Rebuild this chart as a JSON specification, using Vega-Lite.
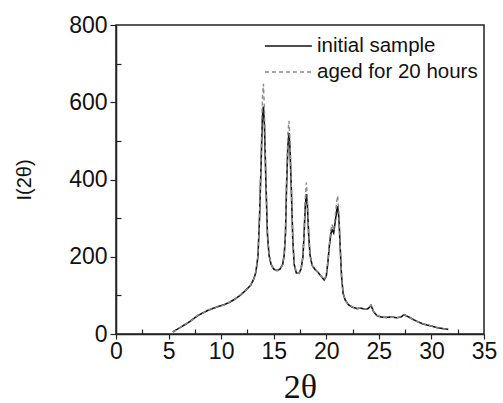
{
  "$schema": "https://vega.github.io/schema/vega-lite/v6.json",
  "width": 368,
  "height": 309,
  "autosize": {"type": "none"},
  "padding": {"left": 116, "top": 25, "right": 19, "bottom": 69},
  "background": "white",
  "config": {
    "view": {"stroke": "#222", "strokeWidth": 1.5},
    "axis": {"grid": false, "domainColor": "#222", "domainWidth": 1.5, "tickColor": "#222", "tickWidth": 1.2, "labelColor": "#111", "titleColor": "#111", "labelFont": "Liberation Sans", "titleFont": "Liberation Sans", "titleFontWeight": "normal"}
  },
  "data": {"values": [
    {"theta": 5.4, "initial sample": 5, "aged for 20 hours": 5},
    {"theta": 5.8, "initial sample": 12, "aged for 20 hours": 11},
    {"theta": 6.3, "initial sample": 20, "aged for 20 hours": 21},
    {"theta": 6.8, "initial sample": 28, "aged for 20 hours": 29},
    {"theta": 7.3, "initial sample": 38, "aged for 20 hours": 37},
    {"theta": 7.8, "initial sample": 48, "aged for 20 hours": 49},
    {"theta": 8.3, "initial sample": 55, "aged for 20 hours": 54},
    {"theta": 8.8, "initial sample": 62, "aged for 20 hours": 63},
    {"theta": 9.3, "initial sample": 67, "aged for 20 hours": 66},
    {"theta": 9.8, "initial sample": 72, "aged for 20 hours": 73},
    {"theta": 10.3, "initial sample": 76, "aged for 20 hours": 75},
    {"theta": 10.8, "initial sample": 82, "aged for 20 hours": 83},
    {"theta": 11.3, "initial sample": 90, "aged for 20 hours": 89},
    {"theta": 11.8, "initial sample": 100, "aged for 20 hours": 101},
    {"theta": 12.3, "initial sample": 112, "aged for 20 hours": 111},
    {"theta": 12.8, "initial sample": 126, "aged for 20 hours": 127},
    {"theta": 13.1, "initial sample": 142, "aged for 20 hours": 142},
    {"theta": 13.3, "initial sample": 160, "aged for 20 hours": 161},
    {"theta": 13.5, "initial sample": 200, "aged for 20 hours": 202},
    {"theta": 13.65, "initial sample": 300, "aged for 20 hours": 305},
    {"theta": 13.8, "initial sample": 440, "aged for 20 hours": 460},
    {"theta": 13.92, "initial sample": 560, "aged for 20 hours": 610},
    {"theta": 14.02, "initial sample": 589, "aged for 20 hours": 648},
    {"theta": 14.12, "initial sample": 540, "aged for 20 hours": 580},
    {"theta": 14.25, "initial sample": 400, "aged for 20 hours": 420},
    {"theta": 14.4, "initial sample": 260, "aged for 20 hours": 265},
    {"theta": 14.55, "initial sample": 205, "aged for 20 hours": 207},
    {"theta": 14.75, "initial sample": 180, "aged for 20 hours": 180},
    {"theta": 15.0, "initial sample": 168, "aged for 20 hours": 168},
    {"theta": 15.3, "initial sample": 164, "aged for 20 hours": 164},
    {"theta": 15.6, "initial sample": 168, "aged for 20 hours": 168},
    {"theta": 15.85, "initial sample": 180, "aged for 20 hours": 180},
    {"theta": 16.0, "initial sample": 205, "aged for 20 hours": 207},
    {"theta": 16.12, "initial sample": 260, "aged for 20 hours": 265},
    {"theta": 16.22, "initial sample": 380, "aged for 20 hours": 395},
    {"theta": 16.35, "initial sample": 490, "aged for 20 hours": 520},
    {"theta": 16.45, "initial sample": 520, "aged for 20 hours": 552},
    {"theta": 16.55, "initial sample": 480, "aged for 20 hours": 505},
    {"theta": 16.68, "initial sample": 370, "aged for 20 hours": 385},
    {"theta": 16.82, "initial sample": 240, "aged for 20 hours": 245},
    {"theta": 16.95, "initial sample": 180, "aged for 20 hours": 181},
    {"theta": 17.15, "initial sample": 158, "aged for 20 hours": 158},
    {"theta": 17.4, "initial sample": 157, "aged for 20 hours": 157},
    {"theta": 17.6, "initial sample": 168, "aged for 20 hours": 168},
    {"theta": 17.78, "initial sample": 200, "aged for 20 hours": 202},
    {"theta": 17.9, "initial sample": 265, "aged for 20 hours": 272},
    {"theta": 18.0, "initial sample": 330, "aged for 20 hours": 350},
    {"theta": 18.1, "initial sample": 362, "aged for 20 hours": 392},
    {"theta": 18.2, "initial sample": 335, "aged for 20 hours": 355},
    {"theta": 18.32, "initial sample": 260, "aged for 20 hours": 268},
    {"theta": 18.45, "initial sample": 205, "aged for 20 hours": 207},
    {"theta": 18.65, "initial sample": 178, "aged for 20 hours": 178},
    {"theta": 18.9, "initial sample": 168, "aged for 20 hours": 168},
    {"theta": 19.2, "initial sample": 160, "aged for 20 hours": 160},
    {"theta": 19.5, "initial sample": 150, "aged for 20 hours": 150},
    {"theta": 19.8, "initial sample": 140, "aged for 20 hours": 140},
    {"theta": 20.0, "initial sample": 150, "aged for 20 hours": 151},
    {"theta": 20.15, "initial sample": 185, "aged for 20 hours": 187},
    {"theta": 20.3, "initial sample": 230, "aged for 20 hours": 235},
    {"theta": 20.45, "initial sample": 262, "aged for 20 hours": 272},
    {"theta": 20.55, "initial sample": 270, "aged for 20 hours": 284},
    {"theta": 20.7, "initial sample": 262, "aged for 20 hours": 268},
    {"theta": 20.85, "initial sample": 290, "aged for 20 hours": 305},
    {"theta": 21.0, "initial sample": 322, "aged for 20 hours": 345},
    {"theta": 21.08, "initial sample": 331, "aged for 20 hours": 358},
    {"theta": 21.2, "initial sample": 300, "aged for 20 hours": 315},
    {"theta": 21.33, "initial sample": 220, "aged for 20 hours": 225},
    {"theta": 21.45, "initial sample": 150, "aged for 20 hours": 152},
    {"theta": 21.6, "initial sample": 105, "aged for 20 hours": 106},
    {"theta": 21.8, "initial sample": 88, "aged for 20 hours": 88},
    {"theta": 22.1, "initial sample": 76, "aged for 20 hours": 76},
    {"theta": 22.5, "initial sample": 69, "aged for 20 hours": 70},
    {"theta": 22.9, "initial sample": 66, "aged for 20 hours": 65},
    {"theta": 23.3, "initial sample": 67, "aged for 20 hours": 68},
    {"theta": 23.7, "initial sample": 64, "aged for 20 hours": 64},
    {"theta": 24.0, "initial sample": 66, "aged for 20 hours": 67},
    {"theta": 24.25, "initial sample": 74, "aged for 20 hours": 75},
    {"theta": 24.5, "initial sample": 58, "aged for 20 hours": 58},
    {"theta": 24.8, "initial sample": 48, "aged for 20 hours": 49},
    {"theta": 25.2, "initial sample": 44, "aged for 20 hours": 44},
    {"theta": 25.7, "initial sample": 43, "aged for 20 hours": 42},
    {"theta": 26.2, "initial sample": 44, "aged for 20 hours": 44},
    {"theta": 26.7, "initial sample": 42, "aged for 20 hours": 42},
    {"theta": 27.1, "initial sample": 44, "aged for 20 hours": 45},
    {"theta": 27.4, "initial sample": 50, "aged for 20 hours": 50},
    {"theta": 27.7, "initial sample": 46, "aged for 20 hours": 47},
    {"theta": 28.1, "initial sample": 40, "aged for 20 hours": 40},
    {"theta": 28.6, "initial sample": 33, "aged for 20 hours": 33},
    {"theta": 29.1, "initial sample": 27, "aged for 20 hours": 28},
    {"theta": 29.6, "initial sample": 23, "aged for 20 hours": 23},
    {"theta": 30.1, "initial sample": 20, "aged for 20 hours": 20},
    {"theta": 30.6, "initial sample": 16, "aged for 20 hours": 16},
    {"theta": 31.1, "initial sample": 14, "aged for 20 hours": 14},
    {"theta": 31.6, "initial sample": 12, "aged for 20 hours": 12}
  ]},
  "transform": [{"fold": ["initial sample", "aged for 20 hours"], "as": ["series", "intensity"]}],
  "layer": [
    {
      "transform": [{"filter": "datum.series === 'initial sample'"}],
      "mark": {"type": "line", "strokeWidth": 1.6},
      "encoding": {
        "x": {"field": "theta", "type": "quantitative", "scale": {"domain": [0, 35], "nice": false},
          "axis": {"orient": "bottom", "values": [0, 5, 10, 15, 20, 25, 30, 35], "tickSize": 5, "labelFontSize": 23, "labelPadding": 1, "title": "2θ", "titleFont": "Liberation Serif", "titleFontSize": 34, "titlePadding": 7, "labelFlush": false, "labelOverlap": false}},
        "y": {"field": "intensity", "type": "quantitative", "scale": {"domain": [0, 800], "nice": false},
          "axis": {"orient": "left", "values": [0, 200, 400, 600, 800], "tickSize": 6, "labelFontSize": 23, "labelPadding": 3, "title": "I(2θ)", "titleFontSize": 20, "titlePadding": 34, "labelOverlap": false}},
        "color": {"field": "series", "type": "nominal", "scale": {"domain": ["initial sample", "aged for 20 hours"], "range": ["#111111", "#8a8a8a"]},
          "legend": {"title": null, "orient": "none", "legendX": 177, "legendY": 8, "symbolType": "M-3.5,0H0.5", "symbolSize": 550, "symbolStrokeWidth": 1.6, "labelFontSize": 20.5, "labelLimit": 300, "labelFont": "Liberation Sans", "labelColor": "#111", "padding": 0, "rowPadding": 2, "labelOffset": -2}},
        "strokeDash": {"field": "series", "type": "nominal", "scale": {"domain": ["initial sample", "aged for 20 hours"], "range": [[1, 0], [4, 3]]}, "legend": {"title": null, "orient": "none", "legendX": 177, "legendY": 8, "symbolType": "M-3.5,0H0.5", "symbolSize": 550, "symbolStrokeWidth": 1.6, "labelFontSize": 20.5, "labelLimit": 300, "labelFont": "Liberation Sans", "labelColor": "#111", "padding": 0, "rowPadding": 2, "labelOffset": -2}}
      }
    },
    {
      "transform": [{"filter": "datum.series === 'aged for 20 hours'"}],
      "mark": {"type": "line", "strokeWidth": 1.4},
      "encoding": {
        "x": {"field": "theta", "type": "quantitative",
          "axis": {"orient": "bottom", "values": [2.5, 7.5, 12.5, 17.5, 22.5, 27.5, 32.5], "tickSize": -5, "labels": false, "domain": false, "title": null}},
        "y": {"field": "intensity", "type": "quantitative",
          "axis": {"orient": "left", "values": [100, 300, 500, 700], "tickSize": -5, "labels": false, "domain": false, "title": null}},
        "color": {"field": "series", "type": "nominal"},
        "strokeDash": {"field": "series", "type": "nominal"}
      }
    }
  ],
  "resolve": {"axis": {"x": "independent", "y": "independent"}}
}
